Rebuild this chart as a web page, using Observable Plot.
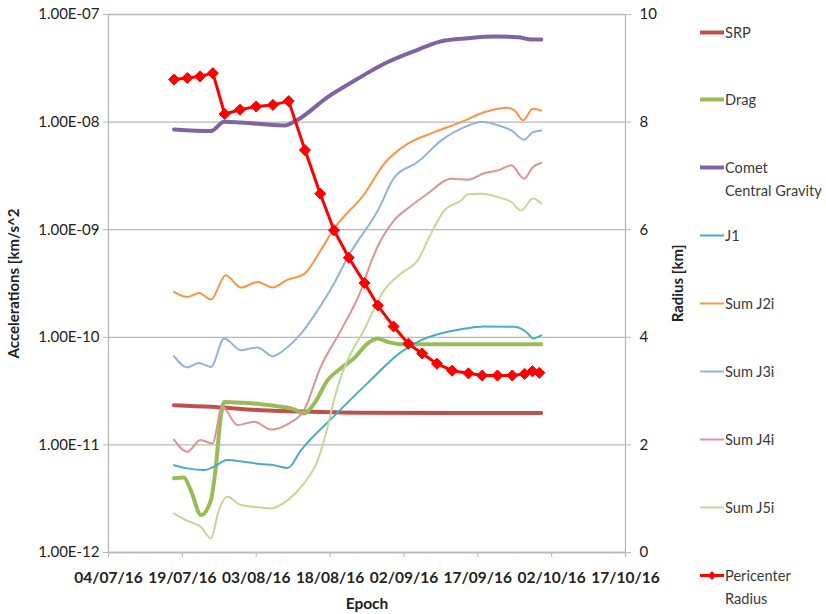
<!DOCTYPE html>
<html><head><meta charset="utf-8">
<script src="https://cdn.jsdelivr.net/npm/d3@7"></script>
<script src="https://cdn.jsdelivr.net/npm/@observablehq/plot@0.6"></script>
<style>
body{margin:0;background:#fff;font-family:Lato,"Open Sans",sans-serif;}
#wrap{position:relative;width:826px;height:614px;overflow:hidden;}
#legend{position:absolute;left:0;top:0;width:826px;height:614px;pointer-events:none;}
.item{position:absolute;left:699px;display:flex;align-items:flex-start;font-size:14.6px;color:#3a3a3a;white-space:nowrap;line-height:23px;}
.item svg{flex:none;margin-top:0;}
g[aria-label="x-axis tick label"] text{font-weight:bold;}
g[aria-label="x-axis label"] text, g[aria-label="y-axis label"] text{font-weight:bold;}
</style></head><body><div id="wrap"><div id="chart"></div><div id="legend"></div></div>
<script>
// Days since 04/07/16 (epoch) and values
const baseDate = Date.UTC(2016, 6, 4);
const xTickDays = [0, 15, 30, 45, 60, 75, 90, 105];
const accelTicks = [1e-12, 1e-11, 1e-10, 1e-9, 1e-8, 1e-7];
const radiusTicks = [0, 2, 4, 6, 8, 10];

const srpDays = [13.3, 20.8, 30.9, 41.1, 51.3, 70, 87.9];
const srpVals = [2.34e-11, 2.26e-11, 2.10e-11, 2.03e-11, 1.99e-11, 1.98e-11, 1.98e-11];

const dragDays = [13.3, 15.3, 16.7, 18.8, 20.8, 21.8, 22.8, 23.5, 27.5, 30.9, 34.3, 37.7, 39.7, 41.8, 44.5, 47.2, 49.9, 52.6, 54.7, 56.7, 59.5, 70, 87.9];
const dragVals = [4.89e-12, 4.99e-12, 3.80e-12, 2.23e-12, 3.07e-12, 6.26e-12, 1.82e-11, 2.51e-11, 2.46e-11, 2.39e-11, 2.29e-11, 2.14e-11, 1.96e-11, 2.43e-11, 4.00e-11, 5.16e-11, 6.40e-11, 8.75e-11, 9.75e-11, 9.06e-11, 8.63e-11, 8.63e-11, 8.63e-11];

const cometDays = [13.3, 20.8, 23.5, 26.9, 35.7, 38.4, 44.5, 50.6, 56.0, 62.8, 67.6, 73.0, 78.4, 83.2, 85.9, 87.9];
const cometVals = [8.55e-9, 8.25e-9, 1.01e-8, 9.93e-9, 9.3e-9, 1.05e-8, 1.71e-8, 2.53e-8, 3.49e-8, 4.70e-8, 5.65e-8, 6.03e-8, 6.25e-8, 6.15e-8, 5.86e-8, 5.86e-8];

const j1Days = [13.3, 16.0, 19.4, 21.4, 24.1, 27.5, 30.9, 33.6, 36.4, 39.1, 45.8, 52.6, 59.4, 63.5, 67.6, 71.6, 76.4, 82.5, 85.2, 86.2, 87.9];
const j1Vals = [6.48e-12, 6.05e-12, 5.83e-12, 6.26e-12, 7.23e-12, 6.97e-12, 6.64e-12, 6.48e-12, 6.1e-12, 8.95e-12, 1.85e-11, 3.75e-11, 7.28e-11, 9.4e-11, 1.09e-10, 1.19e-10, 1.26e-10, 1.25e-10, 1.08e-10, 9.75e-11, 1.04e-10];

const j2Days = [13.3, 16.0, 18.4, 20.8, 23.8, 26.9, 30.3, 33.3, 36.4, 39.7, 43.1, 45.8, 52.0, 56.0, 60.8, 66.2, 71.6, 76.4, 81.1, 82.5, 84.2, 86.2, 87.9];
const j2Vals = [2.64e-10, 2.37e-10, 2.58e-10, 2.24e-10, 3.78e-10, 2.90e-10, 3.27e-10, 2.90e-10, 3.44e-10, 3.86e-10, 6.44e-10, 1.02e-9, 2.16e-9, 4.11e-9, 6.30e-9, 8.07e-9, 1.0e-8, 1.24e-8, 1.36e-8, 1.28e-8, 1.04e-8, 1.33e-8, 1.28e-8];

const j3Days = [13.3, 16.0, 18.4, 20.8, 23.5, 26.9, 30.3, 33.3, 36.4, 39.1, 42.5, 45.8, 48.6, 54.7, 58.1, 62.8, 67.6, 72.3, 75.7, 79.8, 81.8, 84.4, 86.2, 87.9];
const j3Vals = [6.68e-11, 5.25e-11, 5.78e-11, 5.31e-11, 9.75e-11, 7.59e-11, 8.04e-11, 6.68e-11, 8.14e-11, 1.08e-10, 1.79e-10, 3.16e-10, 5.58e-10, 1.51e-9, 3.08e-9, 4.25e-9, 6.76e-9, 8.99e-9, 1.0e-8, 9.12e-9, 8.37e-9, 6.87e-9, 8.07e-9, 8.37e-9];

const j4Days = [13.3, 16.0, 18.7, 21.1, 23.1, 26.2, 29.6, 33.0, 36.4, 39.7, 43.1, 47.2, 51.3, 53.3, 55.3, 58.0, 60.8, 64.8, 69.6, 73.0, 76.4, 79.1, 81.8, 84.4, 86.2, 87.9];
const j4Vals = [1.12e-11, 8.63e-12, 1.11e-11, 1.03e-11, 2.26e-11, 1.53e-11, 1.64e-11, 1.39e-11, 1.56e-11, 2.10e-11, 5.31e-11, 1.16e-10, 2.74e-10, 4.98e-10, 7.97e-10, 1.22e-9, 1.58e-9, 2.16e-9, 2.98e-9, 2.92e-9, 3.36e-9, 3.56e-9, 3.97e-9, 2.98e-9, 3.82e-9, 4.16e-9];

const j5Days = [13.3, 16.0, 18.7, 20.8, 22.4, 24.1, 26.9, 29.6, 33.0, 36.4, 39.7, 42.5, 44.5, 45.8, 47.2, 49.9, 51.3, 56.0, 59.4, 62.8, 65.5, 68.2, 71.6, 73.0, 75.7, 79.1, 81.8, 83.8, 86.2, 87.9];
const j5Vals = [2.31e-12, 1.97e-12, 1.74e-12, 1.36e-12, 2.48e-12, 3.30e-12, 2.76e-12, 2.66e-12, 2.57e-12, 3.07e-12, 4.39e-12, 7.23e-12, 1.47e-11, 2.61e-11, 4.29e-11, 8.14e-11, 1.04e-10, 2.74e-10, 3.91e-10, 5.20e-10, 9.20e-10, 1.51e-9, 1.87e-9, 2.13e-9, 2.16e-9, 2.01e-9, 1.81e-9, 1.51e-9, 1.95e-9, 1.75e-9];

const periDays = [13.3, 16.0, 18.6, 21.2, 23.6, 26.7, 30.0, 33.4, 36.6, 39.9, 43.0, 45.8, 48.8, 52.0, 54.7, 57.9, 60.9, 63.7, 66.7, 69.8, 73.1, 75.9, 79.0, 82.0, 84.5, 86.1, 87.5];
const periRadius = [8.79, 8.82, 8.85, 8.91, 8.15, 8.23, 8.29, 8.32, 8.39, 7.48, 6.67, 5.99, 5.48, 5.01, 4.59, 4.20, 3.88, 3.70, 3.51, 3.38, 3.33, 3.29, 3.29, 3.29, 3.32, 3.37, 3.34];

const seriesNames = ["SRP", "Drag", "Comet Central Gravity", "J1", "Sum J2i", "Sum J3i", "Sum J4i", "Sum J5i", "Pericenter Radius"];

// ---- build
const dayToDate = d => new Date(baseDate + d * 86400000);
const radiusToY = r => Math.pow(10, -12 + r / 2);   // secondary axis 0..10 mapped onto 1e-12..1e-7
const yToRadius = v => Math.round((Math.log10(v) + 12) * 2);
const rows = (days, vals) => days.map((d, i) => ({date: dayToDate(d), value: vals[i]}));

const styles = [
  {name: seriesNames[0], data: rows(srpDays, srpVals), color: "#c0504d", w: 4},
  {name: seriesNames[1], data: rows(dragDays, dragVals), color: "#9bbb59", w: 4},
  {name: seriesNames[2], data: rows(cometDays, cometVals), color: "#8064a2", w: 4},
  {name: seriesNames[3], data: rows(j1Days, j1Vals), color: "#4bacc6", w: 2},
  {name: seriesNames[4], data: rows(j2Days, j2Vals), color: "#f79646", w: 2},
  {name: seriesNames[5], data: rows(j3Days, j3Vals), color: "#95b3d7", w: 2},
  {name: seriesNames[6], data: rows(j4Days, j4Vals), color: "#d99694", w: 2},
  {name: seriesNames[7], data: rows(j5Days, j5Vals), color: "#c3d69b", w: 2}
];
const periData = periDays.map((d, i) => ({date: dayToDate(d), value: radiusToY(periRadius[i])}));

const xTicks = xTickDays.map(dayToDate);
const fmtDate = d3.utcFormat("%d/%m/%y");
const fmtExp = v => { const e = Math.round(Math.log10(v)); return "1.00E" + (e < 0 ? "-" : "+") + String(Math.abs(e)).padStart(2, "0"); };
const gray = "#b8b8b8";

const chart = Plot.plot({
  width: 826, height: 614,
  marginLeft: 108, marginRight: 201, marginTop: 14, marginBottom: 62,
  style: {fontFamily: "Lato, 'Open Sans', sans-serif", fontSize: "15px", color: "#222", background: "#fff"},
  x: {type: "utc", domain: [xTicks[0], xTicks[xTicks.length - 1]]},
  y: {type: "log", domain: [accelTicks[0], accelTicks[accelTicks.length - 1]]},
  marks: [
    Plot.gridY(accelTicks, {stroke: gray, strokeOpacity: 1, strokeWidth: 1.3}),
    Plot.ruleX([xTicks[0], xTicks[xTicks.length - 1]], {stroke: gray, strokeWidth: 1.3}),
    Plot.ruleY([accelTicks[0]], {stroke: gray, strokeWidth: 1.3}),
    Plot.axisX(xTicks, {tickFormat: fmtDate, tickSize: 5, tickPadding: 14, stroke: gray, fill: "#222", fontSize: 15.5,
      label: "Epoch", labelAnchor: "center", labelArrow: "none", labelOffset: 56}),
    Plot.axisY(accelTicks, {anchor: "left", tickFormat: fmtExp, tickSize: 5, tickPadding: 4, stroke: gray, fill: "#222",
      label: "Accelerations [km/s^2", labelAnchor: "center", labelArrow: "none", labelOffset: 100}),
    Plot.axisY(radiusTicks.map(radiusToY), {anchor: "right", tickFormat: yToRadius, tickSize: 5, tickPadding: 9, stroke: gray, fill: "#222",
      label: "Radius [km]", labelAnchor: "center", labelArrow: "none", labelOffset: 57}),
    ...styles.map(s => Plot.line(s.data, {x: "date", y: "value", stroke: s.color, strokeWidth: s.w, curve: "monotone-x"})),
    Plot.line(periData, {x: "date", y: "value", stroke: "#ff0000", strokeWidth: 3}),
    Plot.dot(periData, {x: "date", y: "value", symbol: "diamond2", r: 5, fill: "#ff0000", stroke: "#ff0000", strokeWidth: 1})
  ]
});
document.getElementById("chart").appendChild(chart);

// ---- legend (HTML)
const legend = document.getElementById("legend");
const legendItems = [
  ...styles.map(s => ({label: s.name === "Comet Central Gravity" ? ["Comet", "Central Gravity"] : [s.name], color: s.color, w: s.w, marker: false})),
  {label: ["Pericenter", "Radius"], color: "#ff0000", w: 3, marker: true}
];
legendItems.forEach((it, i) => {
  const div = document.createElement("div");
  div.className = "item";
  div.style.top = (32 + i * 67.9 - 11.5) + "px";
  const sw = `<svg width="26" height="23"><line x1="1" x2="25" y1="11.5" y2="11.5" stroke="${it.color}" stroke-width="${it.w}"/>` +
    (it.marker ? `<path d="M13,7 L17,11.5 L13,16 L9,11.5Z" fill="${it.color}"/>` : "") + `</svg>`;
  div.innerHTML = sw + `<div>${it.label.join("<br>")}</div>`;
  legend.appendChild(div);
});
</script></body></html>
